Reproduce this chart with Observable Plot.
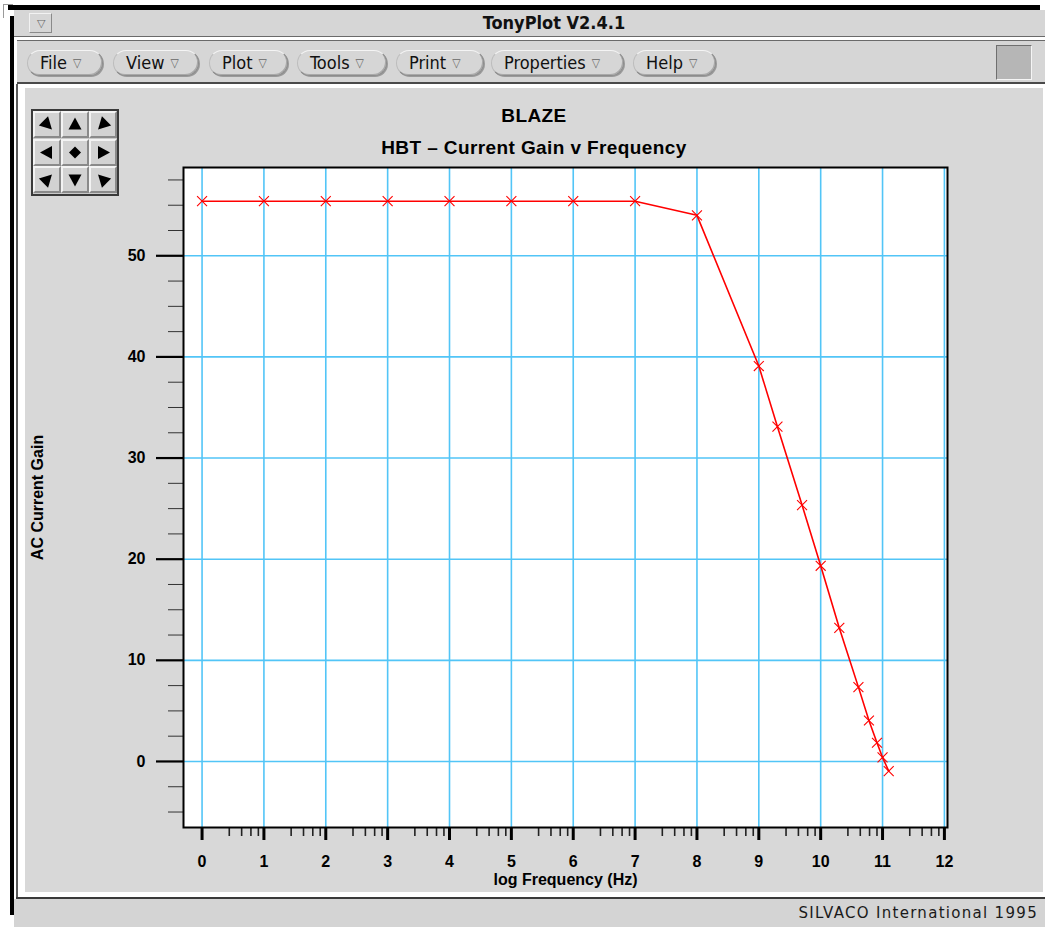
<!DOCTYPE html>
<html>
<head>
<meta charset="utf-8">
<title>TonyPlot V2.4.1</title>
<script src="https://cdn.jsdelivr.net/npm/d3@7"></script>
<script src="https://cdn.jsdelivr.net/npm/@observablehq/plot@0.6"></script>
<style>
  html, body { margin: 0; padding: 0; background: #ffffff; }
  #win { position: relative; width: 1045px; height: 927px; overflow: hidden; background: #ffffff; }
  .abs { position: absolute; box-sizing: border-box; }
  .cond { font-family: "DejaVu Sans Condensed", "DejaVu Sans", sans-serif; font-stretch: condensed; }
  .btn {
    position: absolute; top: 50px; height: 26px; box-sizing: border-box;
    border: 1px solid #8c8c8c; border-top-color: #f4f4f4; border-left-color: #bdbdbd;
    border-radius: 13px; background: #d6d6d6;
    box-shadow: inset -1px -1px 0 #a9a9a9, 1px 1px 0 #9a9a9a;
    font-size: 18px; color: #111; line-height: 24px; padding-left: 12px; white-space: nowrap;
  }
  .btn .tri { font-size: 12px; color: #666; margin-left: 6px; position: relative; top: -2px; }
  #nav { width: 88px; height: 87px; border: 2px solid #3a3a3a; background: #c9c9c9; }
  #nav .cell {
    position: absolute; width: 28px; height: 27px; box-sizing: border-box;
    background: #d2d2d2; border: 2px solid; border-color: #f3f3f3 #8a8a8a #8a8a8a #f3f3f3;
  }
  #nav svg { position: absolute; left: 0; top: 0; }
  .charttext { position: absolute; left: 0; width: 1018px; text-align: center;
    font-family: "Liberation Sans", Arial, Helvetica, sans-serif; font-weight: bold; color: #000;
    font-size: 19px; letter-spacing: 0.4px; line-height: 22px; }
</style>
</head>
<body>
<div id="win">
  <!-- window frame -->
  <div class="abs" style="left:3px; top:4px; width:10px; height:14px; border-left:1px solid #9a9a9a; border-top:1px solid #9a9a9a;"></div>
  <div class="abs" style="left:8px; top:5px; width:1032px; height:5px; background:#000;"></div>
  <div class="abs" style="left:10px; top:16px; width:4px; height:899px; background:#000;"></div>

  <!-- title bar -->
  <div class="abs" style="left:14px; top:10px; width:1031px; height:27px; background:#d6d6d6; border-bottom:1px solid #6a6a6a;"></div>
  <div class="abs" style="left:29px; top:13px; width:23px; height:20px; background:#d6d6d6; border:1px solid; border-color:#f2f2f2 #8a8a8a #8a8a8a #f2f2f2; font-size:11px; color:#666; text-align:center; line-height:18px;">&#9661;</div>
  <div class="abs cond" style="left:14px; top:11px; width:1080px; text-align:center; font-size:18px; font-weight:bold; color:#111; line-height:24px;">TonyPlot V2.4.1</div>

  <!-- tool bar -->
  <div class="abs" style="left:17px; top:38px; width:1028px; height:2px; background:#ffffff;"></div>
  <div class="abs" style="left:17px; top:40px; width:1028px; height:44px; background:#d6d6d6; border-top:1px solid #6a6a6a; border-bottom:2px solid #4a4a4a;"></div>
  <div class="btn cond" style="left:27px; width:76px;">File<span class="tri">&#9661;</span></div>
  <div class="btn cond" style="left:113px; width:86px;">View<span class="tri">&#9661;</span></div>
  <div class="btn cond" style="left:209px; width:79px;">Plot<span class="tri">&#9661;</span></div>
  <div class="btn cond" style="left:297px; width:90px;">Tools<span class="tri">&#9661;</span></div>
  <div class="btn cond" style="left:396px; width:88px;">Print<span class="tri">&#9661;</span></div>
  <div class="btn cond" style="left:491px; width:133px;">Properties<span class="tri">&#9661;</span></div>
  <div class="btn cond" style="left:633px; width:83px;">Help<span class="tri">&#9661;</span></div>
  <div class="abs" style="left:996px; top:45px; width:36px; height:35px; background:#b6b6b6; border:1px solid; border-color:#6f6f6f #f5f5f5 #f5f5f5 #6f6f6f;"></div>

  <!-- inner border of the work area -->
  <div class="abs" style="left:16px; top:84px; width:2px; height:815px; background:#5a5a5a;"></div>
  <div class="abs" style="left:16px; top:897px; width:1029px; height:2px; background:#3a3a3a;"></div>

  <!-- status bar -->
  <div class="abs" style="left:14px; top:899px; width:1031px; height:28px; background:#d4d4d4;"></div>
  <div class="abs" style="left:14px; top:900px; width:1024px; text-align:right; font-family:'DejaVu Sans', sans-serif; font-size:15px; letter-spacing:1.3px; color:#1a1a1a; line-height:26px;">SILVACO International 1995</div>

  <!-- plot panel -->
  <div id="panel" class="abs" style="left:25px; top:88px; width:1018px; height:804px; background:#d8d8d8;">
    <div class="charttext" style="top:17px;">BLAZE</div>
    <div class="charttext" style="top:49px;">HBT &#8211; Current Gain v Frequency</div>
    <div id="chart" class="abs" style="left:0; top:0;"></div>
    <div id="nav" class="abs" style="left:6px; top:21px;"></div>
  </div>
</div>

<script>
// AC current gain of the HBT against log10 of the frequency (Hz)
const logFreq = [0, 1, 2, 3, 4, 5, 6, 7, 8, 9, 9.301, 9.699, 10, 10.301, 10.61, 10.78, 10.91, 11.0, 11.1];
const acGain  = [55.4, 55.4, 55.4, 55.4, 55.4, 55.4, 55.4, 55.4, 54.0, 39.1, 33.1, 25.35, 19.35, 13.2, 7.35, 4.05, 1.85, 0.4, -0.95];

// axis ticks
const xMajorTicks = [0, 1, 2, 3, 4, 5, 6, 7, 8, 9, 10, 11, 12];
const xMinorOffsets = [0.44, 0.64, 0.79, 0.91];
const yMajorTicks = [0, 10, 20, 30, 40, 50];
const yMinorTicks = [-5, -2.5, 2.5, 5, 7.5, 12.5, 15, 17.5, 22.5, 25, 27.5, 32.5, 35, 37.5, 42.5, 45, 47.5, 52.5, 55, 57.5];

const xDomain = [-0.3, 12.05];
const yDomain = [-6.53, 58.73];
const xLabel = "log Frequency (Hz)";
const yLabel = "AC Current Gain";

const xMinorTicks = xMajorTicks.slice(0, -1).flatMap(d => xMinorOffsets.map(o => d + o));
const points = logFreq.map((f, i) => ({f, g: acGain[i]}));

const gridColor = "#52c5f7";
const font = "'Liberation Sans', Arial, Helvetica, sans-serif";

const chart = Plot.plot({
  width: 1018,
  height: 804,
  marginLeft: 158,
  marginRight: 96,
  marginTop: 79,
  marginBottom: 65,
  style: {background: "transparent", color: "#000", fontFamily: font, overflow: "visible"},
  x: {domain: xDomain},
  y: {domain: yDomain},
  marks: [
    Plot.frame({fill: "#ffffff", stroke: null}),
    Plot.gridX(xMajorTicks, {stroke: gridColor, strokeOpacity: 1, strokeWidth: 1.6}),
    Plot.gridY(yMajorTicks, {stroke: gridColor, strokeOpacity: 1, strokeWidth: 1.6}),
    Plot.axisY(yMinorTicks, {anchor: "left", tickSize: 15, text: null, label: null, stroke: "#333", strokeWidth: 1}),
    Plot.axisY(yMajorTicks, {anchor: "left", tickSize: 27, tickPadding: 11, label: null, stroke: "#000", strokeWidth: 2.2,
      fontSize: 16, fontWeight: "bold", fill: "#000", tickFormat: d => String(d)}),
    Plot.axisX(xMinorTicks, {anchor: "bottom", tickSize: 9, text: null, label: null, stroke: "#222", strokeWidth: 1.6}),
    Plot.axisX(xMajorTicks, {anchor: "bottom", tickSize: 13, tickPadding: 15, label: null, stroke: "#000", strokeWidth: 3,
      fontSize: 16, fontWeight: "bold", fill: "#000", tickFormat: d => String(d)}),
    Plot.frame({stroke: "#000", strokeWidth: 2}),
    Plot.line(points, {x: "f", y: "g", stroke: "#ff0000", strokeWidth: 1.6}),
    Plot.dot(points, {x: "f", y: "g", symbol: "times", r: 4.6, stroke: "#ff0000", strokeWidth: 1.1}),
    Plot.text([xLabel], {text: d => d, frameAnchor: "bottom", textAnchor: "middle", lineAnchor: "middle", dy: 52,
      fontSize: 16, fontWeight: "bold", fill: "#000"}),
    Plot.text([yLabel], {text: d => d, frameAnchor: "left", textAnchor: "middle", lineAnchor: "middle", dx: -146, rotate: -90,
      fontSize: 16, fontWeight: "bold", fill: "#000"})
  ]
});
document.getElementById("chart").appendChild(chart);

// pan / zoom navigation pad
const nav = document.getElementById("nav");
const tri = "-5,-6.5 7,0 -5,6.5";
const cells = [45, -90, 135, 180, null, 0, -45, 90, -135];
cells.forEach((a, i) => {
  const col = i % 3, row = Math.floor(i / 3);
  const cell = document.createElement("div");
  cell.className = "cell";
  cell.style.left = (col * 28) + "px";
  cell.style.top = (row * 27.7) + "px";
  const shape = a === null
    ? '<polygon points="0,-6 6,0 0,6 -6,0" fill="#000"/>'
    : `<polygon points="${tri}" fill="#000" transform="rotate(${a})"/>`;
  cell.innerHTML = `<svg width="24" height="23" viewBox="-12 -11.5 24 23">${shape}</svg>`;
  nav.appendChild(cell);
});
</script>
</body>
</html>
